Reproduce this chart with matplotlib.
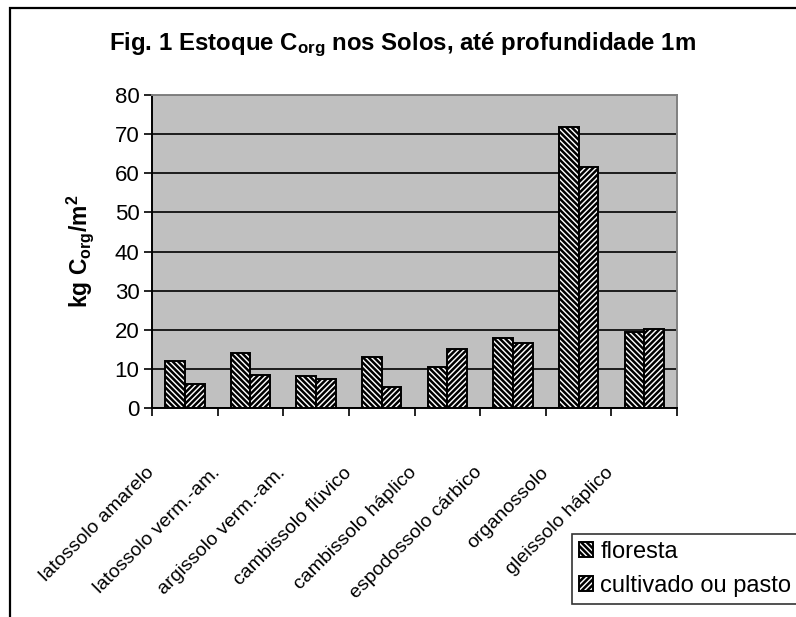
"""Fig. 1: estoque de carbono orgânico nos solos (até 1 m), floresta vs cultivado."""

import matplotlib
matplotlib.use("Agg")
import matplotlib.pyplot as plt
import matplotlib.transforms as mtransforms
import numpy as np

plt.rcParams["font.family"] = ["Liberation Sans", "DejaVu Sans"]
plt.rcParams["mathtext.fontset"] = "custom"
plt.rcParams["mathtext.rm"] = "Liberation Sans"
plt.rcParams["mathtext.bf"] = "Liberation Sans:bold"
plt.rcParams["mathtext.it"] = "Liberation Sans:italic"
plt.rcParams["hatch.linewidth"] = 1.8

categories = [
    "latossolo amarelo",
    "latossolo verm.-am.",
    "argissolo verm.-am.",
    "cambissolo flúvico",
    "cambissolo háplico",
    "espodossolo cárbico",
    "organossolo",
    "gleissolo háplico",
]
floresta = [12.0, 14.0, 8.3, 13.0, 10.5, 18.0, 71.8, 19.4]
cultivado = [6.2, 8.5, 7.3, 5.3, 15.0, 16.5, 61.6, 20.3]
yticks = [0, 10, 20, 30, 40, 50, 60, 70, 80]

W, H = 796, 617
fig = plt.figure(figsize=(W / 100, H / 100), dpi=100, facecolor="white")

# outer chart frame (right and bottom edges fall outside the picture)
fig.patches.append(plt.Rectangle(
    (10 / W, -0.05), 1.0, (H - 8) / H + 0.05,
    transform=fig.transFigure, fill=False, edgecolor="black", linewidth=1.6,
))

ax = fig.add_axes([152 / W, (H - 408) / H, 525 / W, 313 / H])
ax.set_facecolor("#c0c0c0")

x = np.arange(len(categories))
bw = 0.3
ax.bar(x - bw / 2, floresta, bw, facecolor="white", edgecolor="black",
       hatch="\\" * 6, linewidth=1.4, label="floresta", zorder=3)
ax.bar(x + bw / 2, cultivado, bw, facecolor="white", edgecolor="black",
       hatch="/" * 6, linewidth=1.4, label="cultivado ou pasto", zorder=3)

ax.set_xlim(-0.5, len(categories) - 0.5)
ax.set_ylim(0, 80)
ax.set_yticks(yticks)
ax.tick_params(axis="y", labelsize=16, length=6, width=1.2, direction="out", pad=3)
ax.yaxis.grid(True, color="black", linewidth=1.2, zorder=1)
ax.set_axisbelow(True)

# x ticks sit on category boundaries, labels drawn separately
ax.set_xticks(np.arange(len(categories) + 1) - 0.5)
ax.set_xticklabels([])
ax.tick_params(axis="x", length=6, width=1.2, direction="out")

for side in ("left", "bottom"):
    ax.spines[side].set_color("black")
    ax.spines[side].set_linewidth(1.4)
for side in ("top", "right"):
    ax.spines[side].set_color("#808080")
    ax.spines[side].set_linewidth(1.4)

blend = mtransforms.blended_transform_factory(ax.transData, ax.transAxes)
offset = mtransforms.ScaledTranslation(-33 / 100, -62 / 100, fig.dpi_scale_trans)
for i, lab in enumerate(categories):
    ax.text(i, 0, lab, rotation=45, ha="right", va="center",
            rotation_mode="anchor", fontsize=14,
            transform=blend + offset)

fig.text(0.5 + 10 / W / 2, (H - 45) / H,
         r"Fig. 1 Estoque C$_{\mathbf{org}}$ nos Solos, até profundidade 1m",
         ha="center", va="center", fontsize=17.3, fontweight="bold")
fig.text(80 / W, (H - 251) / H, r"kg C$_{\mathbf{org}}$/m$^{\mathbf{2}}$",
         rotation=90, ha="center", va="center", fontsize=16.5, fontweight="bold")

leg = fig.legend(loc="upper left", bbox_to_anchor=(572 / W, (H - 534) / H),
                 frameon=True, fancybox=False, fontsize=17,
                 handlelength=0.6, handleheight=0.6, handletextpad=0.3,
                 borderpad=0.3, labelspacing=0.5, borderaxespad=0)
leg.get_frame().set_edgecolor("black")
leg.get_frame().set_linewidth(1.2)

fig.savefig("out.png", dpi=100, facecolor="white")
